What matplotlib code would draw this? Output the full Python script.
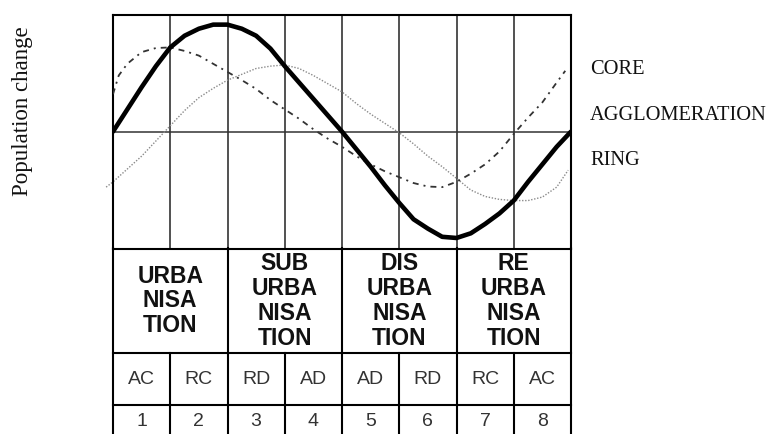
import matplotlib
matplotlib.use('Agg')
import matplotlib.pyplot as plt

# curve readings, stage position (1 unit = one column) vs relative change
core_x = [0, 0.25, 0.5, 0.75, 1, 1.25, 1.5, 1.75, 2, 2.25, 2.5, 2.75, 3, 3.25, 3.5, 3.75,
          4, 4.25, 4.5, 4.75, 5, 5.25, 5.5, 5.75, 6, 6.25, 6.5, 6.75, 7, 7.25, 7.5, 7.75, 8]
core = [0, 0.19, 0.38, 0.56, 0.72, 0.82, 0.88, 0.915, 0.915, 0.88, 0.82, 0.71, 0.56, 0.42,
        0.28, 0.14, 0.0, -0.15, -0.30, -0.46, -0.61, -0.75, -0.83, -0.90, -0.91, -0.87,
        -0.79, -0.70, -0.59, -0.43, -0.28, -0.13, 0.0]

agglo_x = [0, 0.1, 0.25, 0.5, 0.75, 1, 1.25, 1.5, 1.75, 2, 2.25, 2.5, 2.75, 3, 3.25, 3.5, 3.75,
           4, 4.25, 4.5, 4.75, 5, 5.25, 5.5, 5.75, 6, 6.25, 6.5, 6.75, 7, 7.25, 7.5, 7.75, 7.9]
agglo = [0.32, 0.48, 0.58, 0.68, 0.715, 0.72, 0.69, 0.65, 0.58, 0.51, 0.44, 0.365, 0.27, 0.19,
         0.11, 0.02, -0.06, -0.13, -0.21, -0.28, -0.34, -0.39, -0.44, -0.47, -0.475, -0.43,
         -0.36, -0.28, -0.17, -0.02, 0.12, 0.25, 0.42, 0.52]

ring_x = [-0.12, 0, 0.25, 0.5, 0.75, 1, 1.25, 1.5, 1.75, 2, 2.25, 2.5, 2.75, 3, 3.25, 3.5, 3.75,
          4, 4.25, 4.5, 4.75, 5, 5.25, 5.5, 5.75, 6, 6.25, 6.5, 6.75, 7, 7.25, 7.5, 7.75, 7.95]
ring = [-0.475, -0.43, -0.32, -0.21, -0.08, 0.05, 0.18, 0.29, 0.37, 0.44, 0.49, 0.54, 0.56,
        0.57, 0.54, 0.48, 0.41, 0.34, 0.24, 0.15, 0.07, -0.01, -0.105, -0.21, -0.30, -0.40,
        -0.50, -0.555, -0.58, -0.59, -0.59, -0.56, -0.475, -0.33]

series_names = ['CORE', 'AGGLOMERATION', 'RING']
phases = ['URBA\nNISA\nTION', 'SUB\nURBA\nNISA\nTION', 'DIS\nURBA\nNISA\nTION', 'RE\nURBA\nNISA\nTION']
codes = ['AC', 'RC', 'RD', 'AD', 'AD', 'RD', 'RC', 'AC']
steps = ['1', '2', '3', '4', '5', '6', '7', '8']

W, H = 768, 435
fig = plt.figure(figsize=(W / 100, H / 100), dpi=100)

x0, x1 = 113, 571
ytop, ybot = 15.7, 249.5

# --- curves ---
ax = fig.add_axes([x0 / W, 1 - ybot / H, (x1 - x0) / W, (ybot - ytop) / H])
ax.set_xlim(0, 8)
ax.set_ylim(-1, 1)
for i in range(1, 8):
    ax.axvline(i, color='#222222', lw=1.1, zorder=1)
ax.axhline(0, color='#333333', lw=1.1, zorder=1)

ax.plot(ring_x, ring, color='#8a8a8a', lw=1.0, ls=(0, (1, 1.2)), clip_on=False, zorder=2)
ax.plot(agglo_x, agglo, color='#333333', lw=1.3, ls=(0, (3.3, 2.8, 1.1, 2.8)), zorder=3)
ax.plot(core_x, core, color='black', lw=3.3, solid_capstyle='round',
        solid_joinstyle='round', zorder=4)

for s in ax.spines.values():
    s.set_linewidth(1.5)
    s.set_color('black')
ax.set_xticks([])
ax.set_yticks([])

# --- table under the plot (y in pixels from the top) ---
tb = fig.add_axes([x0 / W, 0, (x1 - x0) / W, (H - ybot) / H])
tb.set_xlim(0, 8)
tb.set_ylim(H, ybot)
tb.axis('off')

row1, row2 = 354.5, 405.7
for y in [row1, row2]:
    tb.plot([0, 8], [y, y], color='black', lw=1.5, clip_on=False)
for i in range(9):
    if i % 2 == 0:
        tb.plot([i, i], [ybot, H], color='black', lw=1.5, clip_on=False)
    else:
        tb.plot([i, i], [row1, H], color='black', lw=1.5, clip_on=False)

for i, p in enumerate(phases):
    tb.text(2 * i + 1, 301, p, ha='center', va='center', fontsize=16.5,
            fontweight='bold', family='Liberation Sans', linespacing=1.1, color='#111111')
for i, c in enumerate(codes):
    tb.text(i + 0.5, 380, c, ha='center', va='center', fontsize=14,
            family='Liberation Sans', color='#333333')
for i, n in enumerate(steps):
    tb.text(i + 0.5, 422, n, ha='center', va='center', fontsize=14,
            family='Liberation Sans', color='#333333')

# --- labels on the right and y label ---
for name, y in zip(series_names, [70, 115, 161]):
    fig.text(590 / W, 1 - y / H, name, ha='left', va='center', fontsize=14.7,
             family='Liberation Serif', color='#111111')

fig.text(23 / W, 1 - 111 / H, 'Population change', rotation=90, ha='center', va='center',
         fontsize=16.5, family='Liberation Serif', color='#111111')

fig.savefig('out.png', dpi=100)
